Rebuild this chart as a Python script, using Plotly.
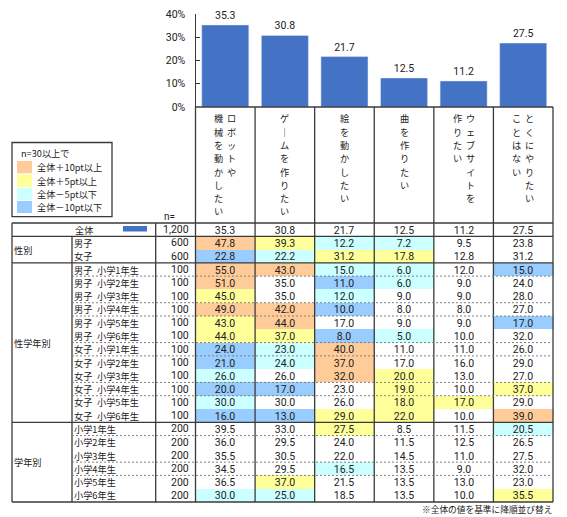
import plotly.graph_objects as go

# ---- data ----
items = ['ロボットや機械を動かしたい', 'ゲームを作りたい', '絵を動かしたい',
         '曲を作りたい', 'ウェブサイトを作りたい', 'とくにやりたいことはない']
# header text written vertically, listed right to left
header_lines = [['ロボットや', '機械を動かしたい'], ['ゲームを作りたい'], ['絵を動かしたい'],
                ['曲を作りたい'], ['ウェブサイトを', '作りたい'], ['とくにやりたい', 'ことはない']]

total = [35.3, 30.8, 21.7, 12.5, 11.2, 27.5]

row_labels = ['全体', '男子', '女子',
              '男子\u2002小学1年生', '男子\u2002小学2年生', '男子\u2002小学3年生',
              '男子\u2002小学4年生', '男子\u2002小学5年生', '男子\u2002小学6年生',
              '女子\u2002小学1年生', '女子\u2002小学2年生', '女子\u2002小学3年生',
              '女子\u2002小学4年生', '女子\u2002小学5年生', '女子\u2002小学6年生',
              '小学1年生', '小学2年生', '小学3年生', '小学4年生', '小学5年生', '小学6年生']
n_values = [1200, 600, 600] + [100] * 12 + [200] * 6
groups = [('性別', 1, 2), ('性学年別', 3, 14), ('学年別', 15, 20)]

sex = [[47.8, 39.3, 12.2, 7.2, 9.5, 23.8],
       [22.8, 22.2, 31.2, 17.8, 12.8, 31.2]]
sex_grade = [[55.0, 43.0, 15.0, 6.0, 12.0, 15.0],
             [51.0, 35.0, 11.0, 6.0, 9.0, 24.0],
             [45.0, 35.0, 12.0, 9.0, 9.0, 28.0],
             [49.0, 42.0, 10.0, 8.0, 8.0, 27.0],
             [43.0, 44.0, 17.0, 9.0, 9.0, 17.0],
             [44.0, 37.0, 8.0, 5.0, 10.0, 32.0],
             [24.0, 23.0, 40.0, 11.0, 11.0, 26.0],
             [21.0, 24.0, 37.0, 17.0, 16.0, 29.0],
             [26.0, 26.0, 32.0, 20.0, 13.0, 27.0],
             [20.0, 17.0, 23.0, 19.0, 10.0, 37.0],
             [30.0, 30.0, 26.0, 18.0, 17.0, 29.0],
             [16.0, 13.0, 29.0, 22.0, 10.0, 39.0]]
grade = [[39.5, 33.0, 27.5, 8.5, 11.5, 20.5],
         [36.0, 29.5, 24.0, 11.5, 12.5, 26.5],
         [35.5, 30.5, 22.0, 14.5, 11.0, 27.5],
         [34.5, 29.5, 16.5, 13.5, 9.0, 32.0],
         [36.5, 37.0, 21.5, 13.5, 13.0, 23.0],
         [30.0, 25.0, 18.5, 13.5, 10.0, 35.5]]

legend_labels = ['全体＋10pt以上', '全体＋5pt以上', '全体－5pt以下', '全体－10pt以下']
cell_colors = ['#FFFFFF', '#FFCC99', '#FFFF99', '#CCFFFF', '#99CCFF']

rows = [total] + sex + sex_grade + grade


def diff_code(v, base):
    d = round(v - base, 1)
    if d >= 10:
        return 1
    if d >= 5:
        return 2
    if d <= -10:
        return 4
    if d <= -5:
        return 3
    return 0


codes = [[0] * 6] + [[diff_code(v, b) for v, b in zip(r, total)] for r in rows[1:]]
texts = [[f'{v:.1f}' for v in r] for r in rows]

# ---- layout geometry (pixels) ----
W, H = 567, 517
JP = 'Noto Sans CJK JP'
NUM = 'Roboto'
TXT = '#222222'
LINE = '#3a3a3a'
L, G, LB, N, R = 12, 72, 155.7, 195.5, 553
HEAD_TOP, TAB_TOP, TAB_BOT = 107, 223, 502
COL_W = (R - N) / 6
RH = (TAB_BOT - TAB_TOP) / len(rows)


def px_x(px):
    return (px - N) / COL_W - 0.5


def px_y(py):
    return (py - TAB_TOP) / RH - 0.5


fig = go.Figure()

fig.add_trace(go.Bar(
    x=list(range(6)), y=total,
    text=[f'{v:.1f}' for v in total], textposition='outside', cliponaxis=False,
    textfont=dict(family=NUM, size=10.5, color=TXT),
    marker_color='#4472C4', width=0.79, hoverinfo='skip'))

cs = []
for k, c in enumerate(cell_colors):
    cs += [[k / 5, c], [(k + 1) / 5, c]]
fig.add_trace(go.Heatmap(
    x=list(range(6)), y=list(range(len(rows))), z=codes,
    text=texts, texttemplate='%{text}',
    textfont=dict(family=NUM, size=10.5, color=TXT),
    colorscale=cs, zmin=-0.5, zmax=4.5, showscale=False,
    xaxis='x2', yaxis='y2', hoverinfo='skip'))

shapes = []


def seg(x0, y0, x1, y1, dash='solid', color=LINE, width=1.3):
    shapes.append(dict(type='line', xref='x2', yref='y2',
                       x0=px_x(x0), x1=px_x(x1), y0=px_y(y0), y1=px_y(y1),
                       line=dict(color=color, width=width, dash=dash)))


def row_edge(r):
    return TAB_TOP + r * RH


# header box + column lines
seg(N, HEAD_TOP, R, HEAD_TOP)
for i in range(7):
    xp = N + i * COL_W
    seg(xp, HEAD_TOP, xp, TAB_BOT)
# horizontal solid lines
for r in [0, 1, 3, 15, 21]:
    seg(L, row_edge(r), R, row_edge(r))
seg(L, TAB_TOP, L, TAB_BOT)
seg(LB, TAB_TOP, LB, TAB_BOT)
seg(G, row_edge(1), G, TAB_BOT)
# dashed lines inside groups (as they show in the source)
for name, a, b in groups:
    for r in range(a, b):
        if r % 3 != 1:
            seg(G, row_edge(r + 1), R, row_edge(r + 1), dash='2px,2px', color='#808080', width=1)

# legend box
shapes.append(dict(type='rect', xref='x2', yref='y2',
                   x0=px_x(L), x1=px_x(112), y0=px_y(142.5), y1=px_y(216.7),
                   line=dict(color=LINE, width=1.3), fillcolor='white', layer='below'))
sw_y = [(161, 173.3), (174.5, 187), (188, 200), (201, 213)]
for k, (y0, y1) in enumerate(sw_y):
    shapes.append(dict(type='rect', xref='x2', yref='y2',
                       x0=px_x(17), x1=px_x(32), y0=px_y(y0), y1=px_y(y1),
                       line=dict(width=0), fillcolor=cell_colors[k + 1]))
# series key in the 全体 row
shapes.append(dict(type='rect', xref='x2', yref='y2',
                   x0=px_x(123), x1=px_x(147), y0=px_y(226), y1=px_y(231.5),
                   line=dict(width=0), fillcolor='#4472C4'))

ann = []


def text(x, y, s, xanchor='left', yanchor='middle', size=9.2, family=JP):
    ann.append(dict(xref='x2', yref='y2', x=x, y=y, text=s, showarrow=False,
                    xanchor=xanchor, yanchor=yanchor, borderpad=0,
                    font=dict(family=family, size=size, color=TXT)))


# vertical header text, one glyph per step
for i, lines in enumerate(header_lines):
    k = len(lines)
    for j, s in enumerate(lines):
        off = 0 if k == 1 else (6.5 if j == 0 else -6.5)
        for c, ch in enumerate(s.replace('ー', '｜')):
            text(i + off / COL_W, px_y(118.3 + c * 13.3), ch, xanchor='center')

text(px_x(84), 0, row_labels[0], xanchor='center')
for r in range(1, len(rows)):
    text(px_x(73), r, row_labels[r])
for name, a, b in groups:
    text(px_x(13), (a + b) / 2, name)
for r, n in enumerate(n_values):
    text(px_x(190), r, f'{n:,}', xanchor='right', size=10.5, family=NUM)
text(px_x(163), px_y(216), 'n=', size=10, family=NUM)

text(px_x(20), px_y(153), 'n=30以上で')
for k, (y0, y1) in enumerate(sw_y):
    text(px_x(36), px_y((y0 + y1) / 2), legend_labels[k])

text(px_x(553), px_y(509), '※全体の値を基準に降順並び替え', xanchor='right', size=8.7)

fig.update_layout(
    width=W, height=H, margin=dict(l=0, r=0, t=0, b=0),
    paper_bgcolor='white', plot_bgcolor='rgba(0,0,0,0)', showlegend=False,
    font=dict(family=JP, size=10.5, color=TXT),
    xaxis=dict(domain=[N / W, R / W], range=[-0.5, 5.5], visible=False, fixedrange=True),
    yaxis=dict(domain=[1 - HEAD_TOP / H, 1 - 14 / H], range=[0, 40], dtick=10,
               ticksuffix='%', showline=True, linecolor=LINE, linewidth=1.3,
               ticks='inside', ticklen=4, tickcolor=LINE, showgrid=False,
               zeroline=False, ticklabelstandoff=7, automargin=False,
               tickfont=dict(family=NUM, size=10.5, color=TXT)),
    xaxis2=dict(domain=[(L - 4) / W, (R + 4) / W], range=[px_x(L - 4), px_x(R + 4)],
                visible=False, anchor='y2'),
    yaxis2=dict(domain=[1 - (TAB_BOT + 12) / H, 1 - (HEAD_TOP - 4) / H],
                range=[px_y(TAB_BOT + 12), px_y(HEAD_TOP - 4)],
                visible=False, anchor='x2'),
    shapes=shapes, annotations=ann)

fig.write_html('out.html', config={'displayModeBar': False},
               post_script="document.body.style.margin='0px';")
